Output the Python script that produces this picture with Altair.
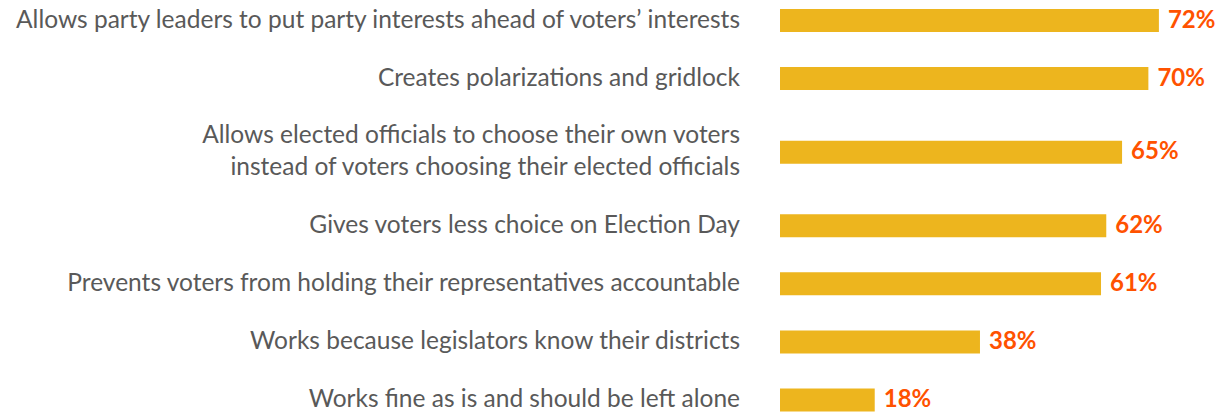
import altair as alt
import pandas as pd

categories = [
    "Allows party leaders to put party interests ahead of voters\u2019 interests",
    "Creates polarizations and gridlock",
    "Allows elected officials to choose their own voters\ninstead of voters choosing their elected officials",
    "Gives voters less choice on Election Day",
    "Prevents voters from holding their representatives accountable",
    "Works because legislators know their districts",
    "Works fine as is and should be left alone",
]
values = [72, 70, 65, 62, 61, 38, 18]

# row slot: one unit per row, plus extra room for labels that wrap onto more lines
extra = [c.count("\n") for c in categories]
pos, before = [], 0
for i, e in enumerate(extra):
    pos.append(i + 0.267 * (2 * before + e))
    before += e

df = pd.DataFrame({"cat": categories, "val": values, "pos": pos,
                   "lab": [f"{v}%" for v in values], "multi": [e > 0 for e in extra]})

y = alt.Y("pos:Q", axis=None,
          scale=alt.Scale(domain=[0, max(pos)], range=[20.5, 400], nice=False,
                          zero=False, padding=0))
x = alt.X("val:Q", axis=None, scale=alt.Scale(domain=[0, 80], range=[780, 1201], padding=0))

base = alt.Chart(df)
bars = base.mark_bar(color="#EDB51E", size=23, orient="horizontal").encode(
    x=x, x2=alt.datum(0), y=y)
pct = base.mark_text(align="left", baseline="middle", dx=9, font="Lato",
                     fontSize=24, fontWeight="bold", color="#FF5200").encode(
    x=x, y=y, text="lab:N")
single = base.transform_filter("!datum.multi").mark_text(
    align="right", baseline="middle", font="Lato", fontSize=24.5, color="#595959").encode(
    x=alt.value(740), y=y, text="cat:N")
multi = base.transform_filter("datum.multi").mark_text(
    align="right", baseline="middle", font="Lato", fontSize=24.5, color="#595959",
    lineBreak="\n", lineHeight=32, dy=-16).encode(
    x=alt.value(740), y=y, text="cat:N")

chart = alt.layer(bars, pct, single, multi).properties(
    width=1228, height=415, padding=0, autosize=alt.AutoSizeParams(type="none"),
    background="white",
).configure_view(stroke=None)

chart.save("out.html", embed_options={"renderer": "svg", "actions": False})
